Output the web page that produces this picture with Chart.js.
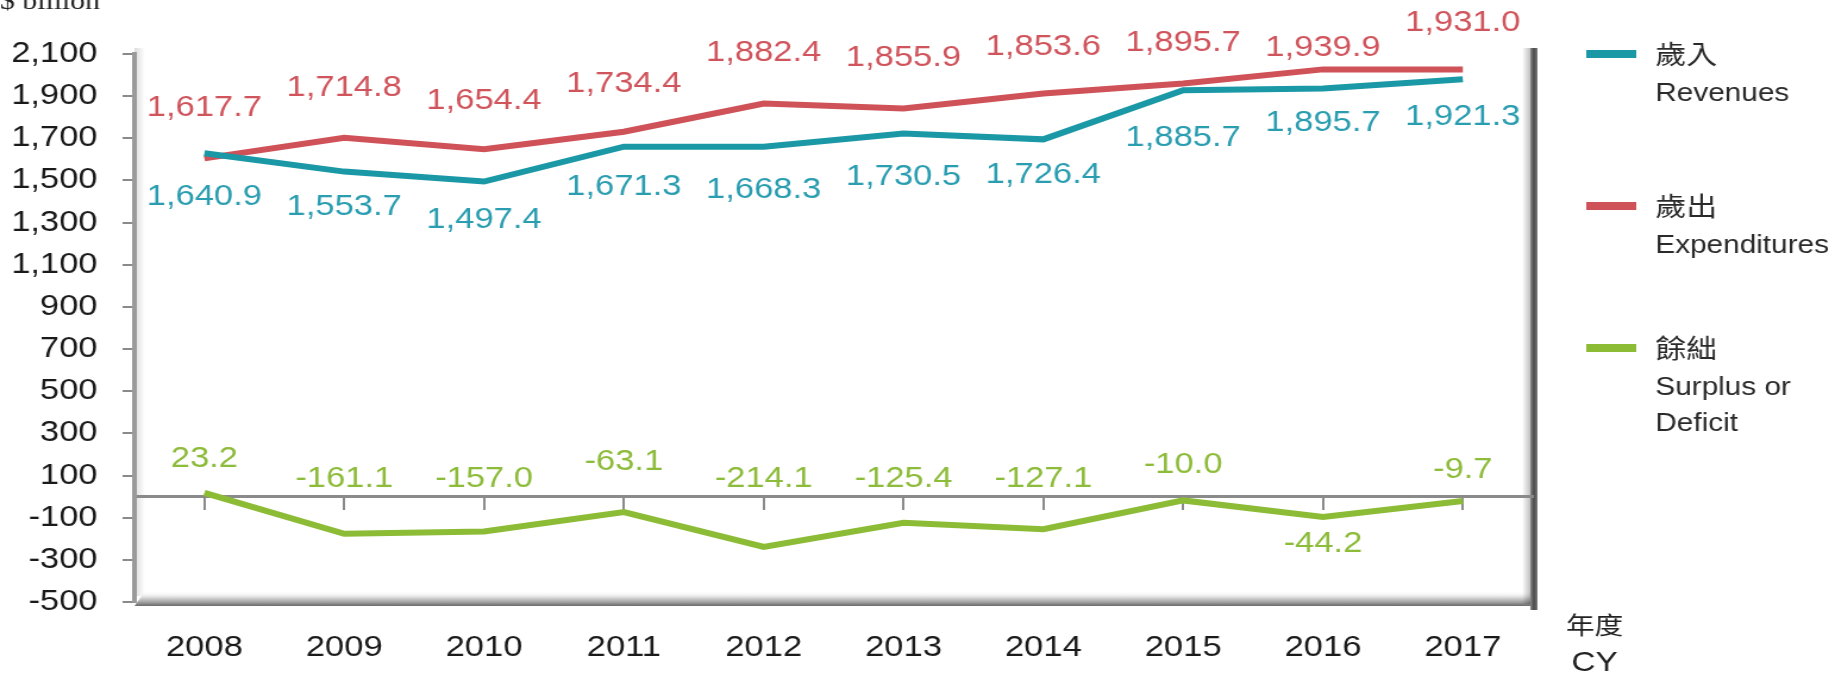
<!DOCTYPE html>
<html>
<head>
<meta charset="utf-8">
<script src="https://cdn.jsdelivr.net/npm/chart.js@4/dist/chart.umd.min.js"></script>
<style>
    html, body { margin: 0; padding: 0; background: #fff; overflow: hidden; }
    #wrap { width: 1544px; height: 673px; transform: scaleX(1.19); transform-origin: 0 0; }
</style>
</head>
<body>
<div id="wrap"><canvas id="fiscalChart"></canvas></div>
<script>
const years = ['2008', '2009', '2010', '2011', '2012', '2013', '2014', '2015', '2016', '2017'];

// line positions as drawn in the picture
const revenue = [1629, 1542, 1495, 1660, 1660, 1723, 1695, 1928, 1936, 1980];
const expenditure = [1605, 1703, 1648, 1731, 1865, 1842, 1913, 1960, 2027, 2027];
const surplus = [18, -176, -165, -73, -239, -124, -155, -18, -97, -21];

// values printed next to the points
const revenueLabels = [1640.9, 1553.7, 1497.4, 1671.3, 1668.3, 1730.5, 1726.4, 1885.7, 1895.7, 1921.3];
const expenditureLabels = [1617.7, 1714.8, 1654.4, 1734.4, 1882.4, 1855.9, 1853.6, 1895.7, 1939.9, 1931.0];
const surplusLabels = [23.2, -161.1, -157.0, -63.1, -214.1, -125.4, -127.1, -10.0, -44.2, -9.7];

const yTicks = { min: -500, max: 2100, step: 200 };

const legendZh = ['歲入', '歲出', '餘絀'];
const legendEn = [['Revenues'], ['Expenditures'], ['Surplus or', 'Deficit']];

// small hand nudges of the value labels (px), like in the original
const revenueShift = [4, -5, -2, 0, 3, 4, -4, 8, -6, -2];
const expenditureShift = [-2, -2, 0, 0, -3, -2, 2, 7, 27, 2];
const surplusShift = [-12, 4, 4, -13, 4, 4, 4, -10, 0, -5];

const SANS = '"Liberation Sans", Arial, sans-serif';
const CJK = '"Noto Sans CJK TC", "Noto Sans CJK SC", sans-serif';

function fmt(v) {
    return v.toLocaleString('en-US', { minimumFractionDigits: 1, maximumFractionDigits: 1 });
}

const framePlugin = {
    id: 'frame',
    beforeDraw(chart) {
        const { ctx, chartArea: a } = chart;
        ctx.save();
        // left wall shade
        let g = ctx.createLinearGradient(a.left, 0, a.left + 9, 0);
        g.addColorStop(0, 'rgba(0,0,0,0.14)');
        g.addColorStop(1, 'rgba(0,0,0,0)');
        ctx.fillStyle = g;
        ctx.fillRect(a.left, a.top - 6, 9, a.bottom - a.top);
        // floor
        g = ctx.createLinearGradient(0, a.bottom - 11, 0, a.bottom + 4);
        g.addColorStop(0, 'rgba(255,255,255,0)');
        g.addColorStop(0.4, '#e0e0e0');
        g.addColorStop(0.75, '#a0a0a0');
        g.addColorStop(1, '#6a6a6a');
        ctx.fillStyle = g;
        ctx.beginPath();
        ctx.moveTo(a.left + 9, a.bottom - 11);
        ctx.lineTo(a.right - 2, a.bottom - 11);
        ctx.lineTo(a.right - 2, a.bottom + 4);
        ctx.lineTo(a.left, a.bottom + 4);
        ctx.closePath();
        ctx.fill();
        // right wall
        g = ctx.createLinearGradient(a.right - 9, 0, a.right - 2, 0);
        g.addColorStop(0, 'rgba(0,0,0,0)');
        g.addColorStop(1, 'rgba(0,0,0,0.25)');
        ctx.fillStyle = g;
        ctx.fillRect(a.right - 9, a.top - 6, 7, a.bottom - a.top + 8);
        g = ctx.createLinearGradient(a.right - 2, 0, a.right + 4, 0);
        g.addColorStop(0, '#8a8a8a');
        g.addColorStop(0.5, '#4a4a4a');
        g.addColorStop(1, '#7a7a7a');
        ctx.fillStyle = g;
        ctx.fillRect(a.right - 2, a.top - 6, 6, a.bottom - a.top + 14);
        ctx.restore();
    }
};

const valueLabelPlugin = {
    id: 'valueLabels',
    afterDatasetsDraw(chart) {
        const { ctx } = chart;
        const zeroY = chart.scales.y.getPixelForValue(0);
        ctx.save();
        ctx.font = '29px ' + SANS;
        ctx.textAlign = 'center';
        ctx.textBaseline = 'middle';
        chart.data.datasets.forEach((ds, di) => {
            const meta = chart.getDatasetMeta(di);
            ctx.fillStyle = ds.textColor;
            meta.data.forEach((pt, i) => {
                let y;
                if (ds.labelSide === 'above') y = pt.y - 48;
                else if (ds.labelSide === 'below') y = pt.y + 40;
                else if (pt.y > zeroY + 15 && ds.values[i] > -60) y = pt.y + 27;
                else y = Math.min(pt.y, zeroY) - 22;
                ctx.fillText(fmt(ds.values[i]), pt.x, y + ds.shift[i]);
            });
        });
        ctx.restore();
    }
};

const sidePlugin = {
    id: 'sideTexts',
    afterDraw(chart) {
        const { ctx, chartArea: a } = chart;
        ctx.save();
        ctx.fillStyle = '#222';
        ctx.textBaseline = 'alphabetic';
        ctx.font = '25px "Liberation Serif", "Times New Roman", serif';
        ctx.textAlign = 'left';
        ctx.fillText('$ billion', 0, 9);

        ctx.textAlign = 'center';
        ctx.textBaseline = 'middle';
        ctx.font = '24px ' + CJK;
        ctx.fillText('年度', a.right + 52, 625);
        ctx.font = '28px ' + SANS;
        ctx.fillText('CY', a.right + 52, 663);

        // legend
        const itemY = [54, 206, 348];
        ctx.textAlign = 'left';
        chart.data.datasets.forEach((ds, i) => {
            const y = itemY[i];
            ctx.strokeStyle = ds.borderColor;
            ctx.lineWidth = 8;
            ctx.beginPath();
            ctx.moveTo(a.right + 45, y);
            ctx.lineTo(a.right + 87, y);
            ctx.stroke();
            ctx.fillStyle = '#2a2a2a';
            ctx.font = '26px ' + CJK;
            ctx.fillText(legendZh[i], a.right + 103, y);
            ctx.font = '25px ' + SANS;
            legendEn[i].forEach((line, k) => {
                ctx.fillText(line, a.right + 103, y + 40 + k * 36);
            });
        });
        ctx.restore();
    }
};

document.addEventListener('DOMContentLoaded', () => {
    const ctx = document.getElementById('fiscalChart').getContext('2d');

    new Chart(ctx, {
        type: 'line',
        data: {
            labels: years,
            datasets: [
                {
                    label: '歲入 Revenues',
                    data: revenue,
                    values: revenueLabels,
                    shift: revenueShift,
                    labelSide: 'below',
                    borderColor: '#1b98a6',
                    textColor: '#2a9db0',
                    borderWidth: 6,
                    pointRadius: 0,
                    tension: 0
                },
                {
                    label: '歲出 Expenditures',
                    data: expenditure,
                    values: expenditureLabels,
                    shift: expenditureShift,
                    labelSide: 'above',
                    borderColor: '#cf5259',
                    textColor: '#d0545c',
                    borderWidth: 6,
                    pointRadius: 0,
                    tension: 0
                },
                {
                    label: '餘絀 Surplus or Deficit',
                    data: surplus,
                    values: surplusLabels,
                    shift: surplusShift,
                    labelSide: 'zero',
                    borderColor: '#8cbb36',
                    textColor: '#8dbb3a',
                    borderWidth: 6,
                    pointRadius: 0,
                    tension: 0
                }
            ]
        },
        options: {
            responsive: true,
            maintainAspectRatio: false,
            animation: false,
            devicePixelRatio: 1,
            layout: { padding: { top: 54, right: 256, bottom: 0, left: 0 } },
            plugins: {
                legend: { display: false },
                tooltip: { enabled: false }
            },
            scales: {
                x: {
                    type: 'category',
                    position: { y: 0 },
                    offset: true,
                    ticks: { display: false },
                    grid: {
                        drawOnChartArea: false,
                        drawTicks: true,
                        tickLength: 12,
                        color: '#8a8a8a',
                        lineWidth: 2
                    },
                    border: { display: true, color: '#8a8a8a', width: 3 }
                },
                x2: {
                    type: 'category',
                    position: 'bottom',
                    labels: years,
                    offset: true,
                    grid: { display: false, drawTicks: false },
                    border: { display: false },
                    ticks: {
                        padding: 29,
                        color: '#1a1a1a',
                        font: { family: SANS, size: 29 },
                        maxRotation: 0
                    },
                    afterFit(scale) { scale.height = 71; }
                },
                y: {
                    min: yTicks.min,
                    max: yTicks.max,
                    position: 'left',
                    ticks: {
                        stepSize: yTicks.step,
                        padding: 21,
                        color: '#1a1a1a',
                        font: { family: SANS, size: 29 },
                        callback: v => v.toLocaleString('en-US')
                    },
                    grid: {
                        drawOnChartArea: false,
                        tickLength: 10,
                        color: '#8a8a8a',
                        lineWidth: 2
                    },
                    border: { display: true, color: '#9a9a9a', width: 4 },
                    afterFit(scale) { scale.width = 113; }
                }
            }
        },
        plugins: [framePlugin, valueLabelPlugin, sidePlugin]
    });
});
</script>
</body>
</html>
